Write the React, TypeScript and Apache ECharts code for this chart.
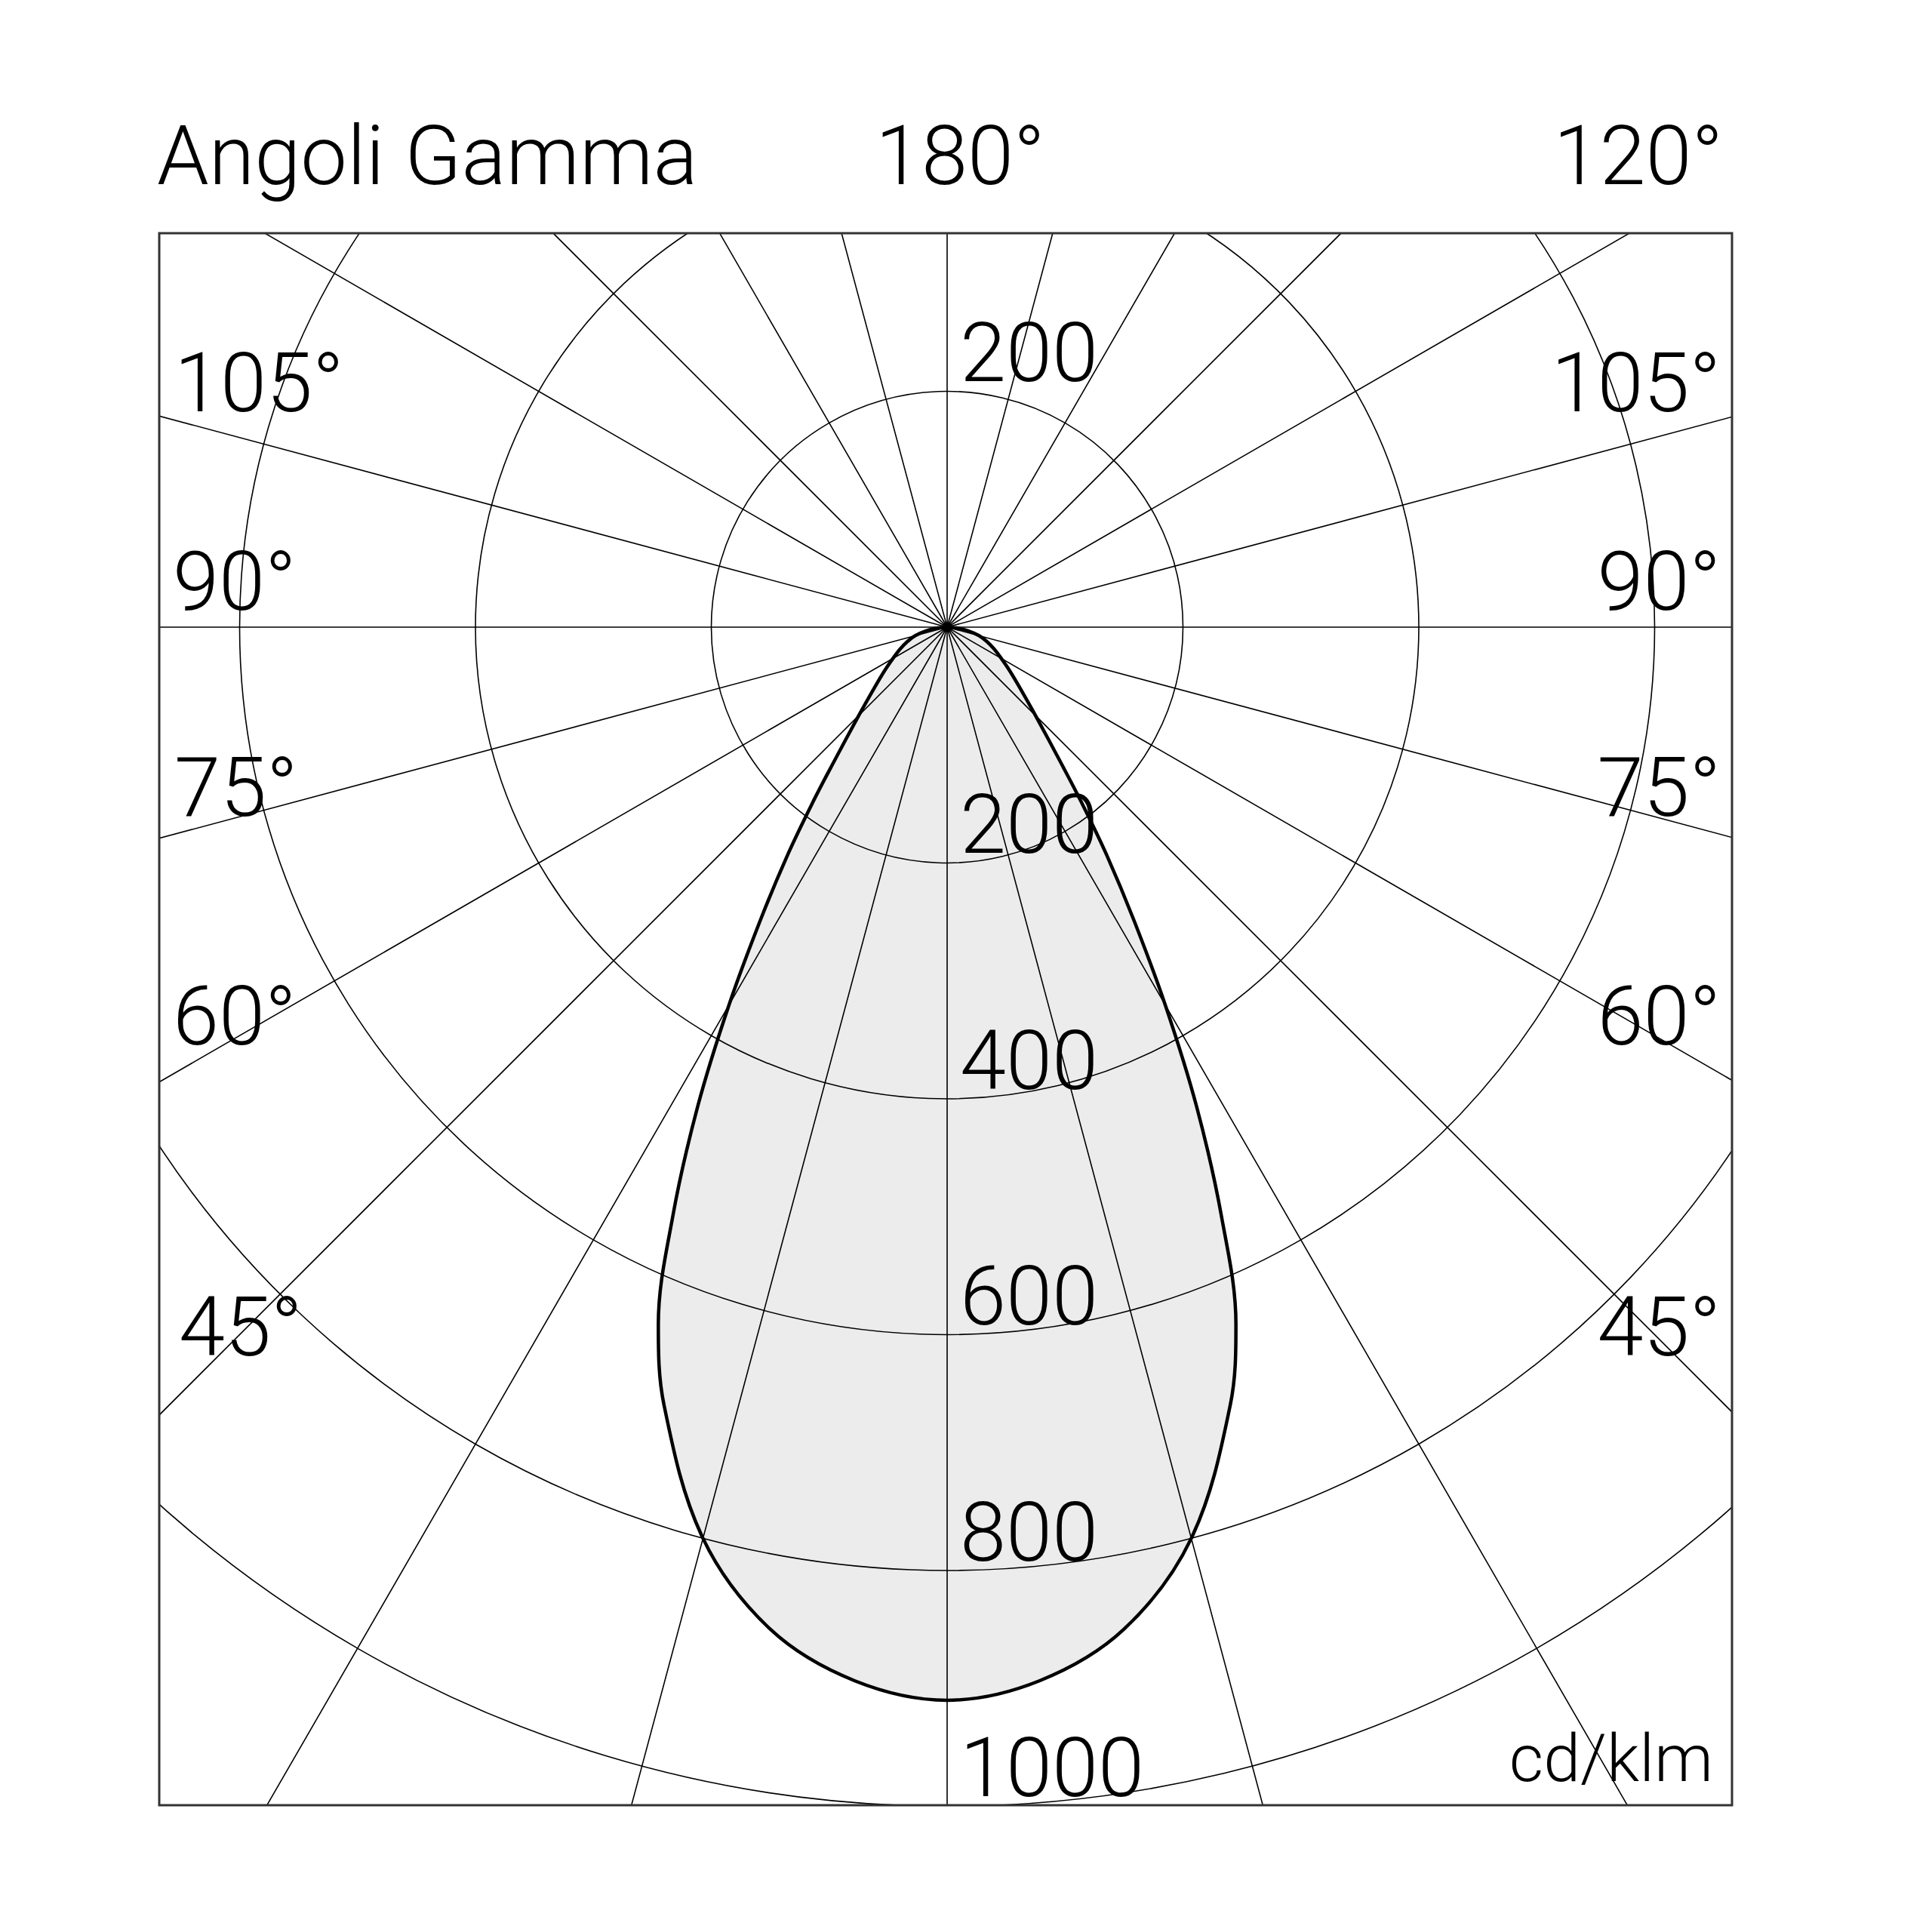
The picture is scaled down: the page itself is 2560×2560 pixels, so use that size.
import React, { useEffect, useRef } from "react";
import * as echarts from "echarts";

// Gamma angle (deg, 0 = straight down) and luminous intensity (cd/klm)
const GAMMA = [0, 5, 10, 15, 20, 22.5, 25, 27.5, 30, 32.5, 35, 37.5, 40, 45, 50, 55, 60, 65, 70, 75, 80, 85, 90];
const INTENSITY = [910, 897, 863, 800, 702, 640, 550, 458, 370, 295, 236, 187, 150, 106, 81, 65, 53, 44, 36, 28, 18, 8, 0];

// Radial ring values and their label positions (angle of the label: 0 = down, 180 = up)
const RING_LABEL_VALUES = [200, 400, 600, 800, 1000, 200];
const RING_LABEL_ANGLES = [0, 0, 0, 0, 0, 180];

// Angle labels on the sides
const SIDE_LABELS = ["105°", "90°", "75°", "60°", "45°"];
const SIDE_BASELINES = [545, 808, 1081, 1384, 1796];
const SIDE_LEFT_X = [231, 229, 231, 229, 237];

const TITLE = "Angoli Gamma";
const TOP_LEFT_ANGLE = "180°";
const TOP_RIGHT_ANGLE = "120°";
const UNIT = "cd/klm";

const FONT_FAMILY = "Roboto, 'Liberation Sans', Arial, sans-serif";
const FS = 110;
const CENTRAL = 0.342;

const CX = 1255;
const CY = 831;
const R1000 = 1562.5;
const BOX = { x: 211, y: 309, w: 2084, h: 2083 };

export default function App() {
  const ref = useRef<HTMLDivElement>(null);

  useEffect(() => {
    if (!ref.current) return;
    const chart = echarts.init(ref.current, null, { renderer: "svg" });

    // curve: one half from 90 down to 0, then the mirrored half
    const curve: number[][] = [];
    for (let i = GAMMA.length - 1; i >= 0; i--) curve.push([INTENSITY[i], GAMMA[i]]);
    for (let i = 1; i < GAMMA.length; i++) curve.push([INTENSITY[i], 360 - GAMMA[i]]);

    const ringLabels = RING_LABEL_VALUES.map((v, i) => [v, RING_LABEL_ANGLES[i]]);

    const hidden = { show: false };
    const gridLine = { color: "#000", width: 1.6 };

    const text = (t: string, x: number, baseline: number, align: string, fs = FS) => ({
      type: "text",
      x,
      y: baseline - CENTRAL * fs,
      z: 120,
      style: {
        text: t,
        fontFamily: FONT_FAMILY,
        fontWeight: 300,
        fontSize: fs,
        fill: "#000",
        align,
        verticalAlign: "middle",
      },
    });

    const white = (x: number, y: number, w: number, h: number) => ({
      type: "rect",
      z: 100,
      shape: { x, y, width: w, height: h },
      style: { fill: "#fff" },
      silent: true,
    });

    const graphics: any[] = [
      white(0, 0, 2560, BOX.y),
      white(0, BOX.y + BOX.h, 2560, 2560 - BOX.y - BOX.h),
      white(0, 0, BOX.x, 2560),
      white(BOX.x + BOX.w, 0, 2560 - BOX.x - BOX.w, 2560),
      {
        type: "rect",
        z: 110,
        shape: { x: BOX.x, y: BOX.y, width: BOX.w, height: BOX.h },
        style: { fill: "none", stroke: "#333", lineWidth: 3 },
      },
      text(TITLE, 208, 244, "left"),
      text(TOP_LEFT_ANGLE, 1160, 244, "left"),
      text(TOP_RIGHT_ANGLE, 2283, 244, "right"),
      text(UNIT, 2270, 2360, "right", 88),
    ];
    SIDE_LABELS.forEach((s, i) => {
      graphics.push(text(s, SIDE_LEFT_X[i], SIDE_BASELINES[i], "left"));
      graphics.push(text(s, 2280, SIDE_BASELINES[i], "right"));
    });

    chart.setOption({
      animation: false,
      backgroundColor: "#fff",
      polar: [
        { center: [CX, CY], radius: R1000 },
        { center: [CX, CY], radius: 1900 },
      ],
      angleAxis: [
        {
          polarIndex: 0, type: "value", min: 0, max: 360, interval: 15, startAngle: 270,
          axisLine: hidden, axisTick: hidden, axisLabel: hidden, splitLine: hidden,
        },
        {
          polarIndex: 1, type: "value", min: 0, max: 360, interval: 15, startAngle: 270,
          axisLine: hidden, axisTick: hidden, axisLabel: hidden,
          splitLine: { show: true, lineStyle: gridLine },
        },
      ],
      radiusAxis: [
        {
          polarIndex: 0, type: "value", min: 0, max: 1000, interval: 200,
          axisLine: hidden, axisTick: hidden, axisLabel: hidden,
          splitLine: { show: true, lineStyle: gridLine },
        },
        {
          polarIndex: 1, type: "value", min: 0, max: 1000,
          axisLine: hidden, axisTick: hidden, axisLabel: hidden, splitLine: hidden,
        },
      ],
      series: [
        {
          type: "line",
          coordinateSystem: "polar",
          polarIndex: 0,
          data: curve,
          symbol: "none",
          smooth: 0.35,
          lineStyle: { color: "#000", width: 4.5 },
          areaStyle: { color: "rgba(0,0,0,0.075)", opacity: 1 },
          z: 5,
        },
        {
          type: "scatter",
          coordinateSystem: "polar",
          polarIndex: 0,
          data: ringLabels,
          symbolSize: 0,
          itemStyle: { color: "#000", opacity: 1 },
          z: 6,
          label: {
            show: true,
            position: "inside",
            align: "left",
            verticalAlign: "middle",
            offset: [17, -13 - CENTRAL * FS],
            formatter: (p: any) => String(p.value[0]),
            fontFamily: FONT_FAMILY,
            fontWeight: 300,
            fontSize: FS,
            color: "#000",
            opacity: 1,
            textBorderWidth: 0,
          },
        },
      ],
      graphic: graphics,
    });

    return () => chart.dispose();
  }, []);

  return (
    <div
      ref={ref}
      style={{ position: "absolute", left: 0, top: 0, width: 2560, height: 2560 }}
    />
  );
}
